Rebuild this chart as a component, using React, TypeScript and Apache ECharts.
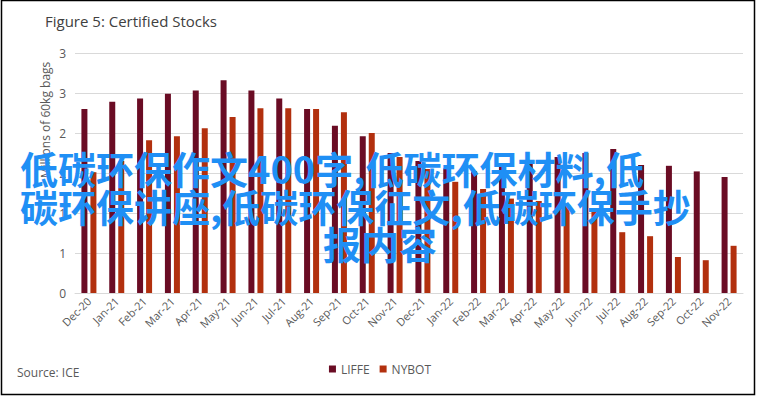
import React, { useEffect, useRef } from "react";
import * as echarts from "echarts";

const categories = [
  "Dec-20", "Jan-21", "Feb-21", "Mar-21", "Apr-21", "May-21", "Jun-21", "Jul-21",
  "Aug-21", "Sep-21", "Oct-21", "Nov-21", "Dec-21", "Jan-22", "Feb-22", "Mar-22",
  "Apr-22", "May-22", "Jun-22", "Jul-22", "Aug-22", "Sep-22", "Oct-22", "Nov-22",
];
const liffe = [
  2.30, 2.39, 2.43, 2.49, 2.53, 2.66, 2.53, 2.43, 2.30, 2.09, 1.96, 1.75,
  1.65, 1.56, 1.52, 1.62, 1.66, 1.70, 1.75, 1.80, 1.60, 1.59, 1.52, 1.45,
];
const nybot = [
  1.51, 1.65, 1.91, 1.96, 2.06, 2.20, 2.31, 2.31, 2.30, 2.26, 2.00, 1.70,
  1.55, 1.39, 1.30, 1.18, 1.15, 1.10, 1.04, 0.76, 0.71, 0.45, 0.41, 0.59,
];
const seriesNames = ["LIFFE", "NYBOT"];
const titleText = "Figure 5: Certified Stocks";
const yAxisName = "Millions of 60kg bags";
const sourceText = "Source: ICE";
const overlayLines = [
  "低碳环保作文400字,低碳环保材料,低",
  "碳环保讲座,低碳环保征文,低碳环保手抄",
  "报内容",
];

export default function App() {
  const ref = useRef<HTMLDivElement>(null);
  useEffect(() => {
    if (!ref.current) return;
    const chart = echarts.init(ref.current, undefined, { renderer: "svg" });
    const font = "'Open Sans', 'Noto Sans', sans-serif";
    const gray = "#595959";
    const overlayStyle = {
      fill: "#1f8ff5",
      fontSize: 38,
      fontWeight: "bold",
      fontFamily: "'Noto Sans CJK SC', sans-serif",
      align: "left",
      verticalAlign: "middle",
    };
    chart.setOption({
      animation: false,
      backgroundColor: "#ffffff",
      textStyle: { fontFamily: font },
      grid: { left: 75, right: 17, top: 53, bottom: 106, containLabel: false },
      legend: {
        bottom: 19,
        left: "center",
        icon: "rect",
        itemWidth: 7,
        itemHeight: 7,
        itemGap: 10,
        textStyle: { color: gray, fontSize: 12, fontFamily: font },
        data: seriesNames,
      },
      xAxis: {
        type: "category",
        data: categories,
        axisLine: { lineStyle: { color: "#d9d9d9", width: 1 } },
        axisTick: { show: false },
        axisLabel: { rotate: 45, color: gray, fontSize: 11, margin: 6, interval: 0 },
      },
      yAxis: {
        type: "value",
        min: 0,
        max: 3,
        interval: 0.5,
        axisLine: { show: false },
        axisTick: { show: false },
        splitLine: { lineStyle: { color: "#d9d9d9", width: 1 } },
        axisLabel: {
          color: gray,
          fontSize: 12,
          margin: 9,
          formatter: (v: number) => String(Math.round(v)),
        },
      },
      series: [
        {
          name: seriesNames[0],
          type: "bar",
          data: liffe,
          barWidth: 6,
          barGap: "50%",
          itemStyle: { color: "#6a0c24" },
        },
        {
          name: seriesNames[1],
          type: "bar",
          data: nybot,
          barWidth: 6,
          itemStyle: { color: "#b2300e" },
        },
      ],
      graphic: [
        {
          type: "rect",
          shape: { x: 1.5, y: 0.5, width: 753, height: 394 },
          style: { fill: "none", stroke: "#000000", lineWidth: 1.5 },
          silent: true,
        },
        {
          type: "text",
          left: 45,
          top: 13,
          style: { text: titleText, fill: "#404040", fontSize: 15, fontFamily: font },
        },
        {
          type: "text",
          x: 45,
          y: 120,
          rotation: Math.PI / 2,
          style: {
            text: yAxisName,
            fill: gray,
            fontSize: 12,
            fontFamily: font,
            align: "center",
            verticalAlign: "middle",
          },
        },
        {
          type: "text",
          left: 17,
          top: 366,
          style: { text: sourceText, fill: gray, fontSize: 12, fontFamily: font },
        },
        {
          type: "text",
          x: 20,
          y: 167,
          z: 100,
          style: { ...overlayStyle, text: overlayLines[0] },
        },
        {
          type: "text",
          x: 20,
          y: 205,
          z: 100,
          style: { ...overlayStyle, text: overlayLines[1] },
        },
        {
          type: "text",
          x: 323,
          y: 242,
          z: 100,
          style: { ...overlayStyle, text: overlayLines[2] },
        },
      ],
    });
    return () => chart.dispose();
  }, []);
  return (
    <div
      ref={ref}
      style={{ position: "fixed", left: 0, top: 0, width: 760, height: 399 }}
    />
  );
}
